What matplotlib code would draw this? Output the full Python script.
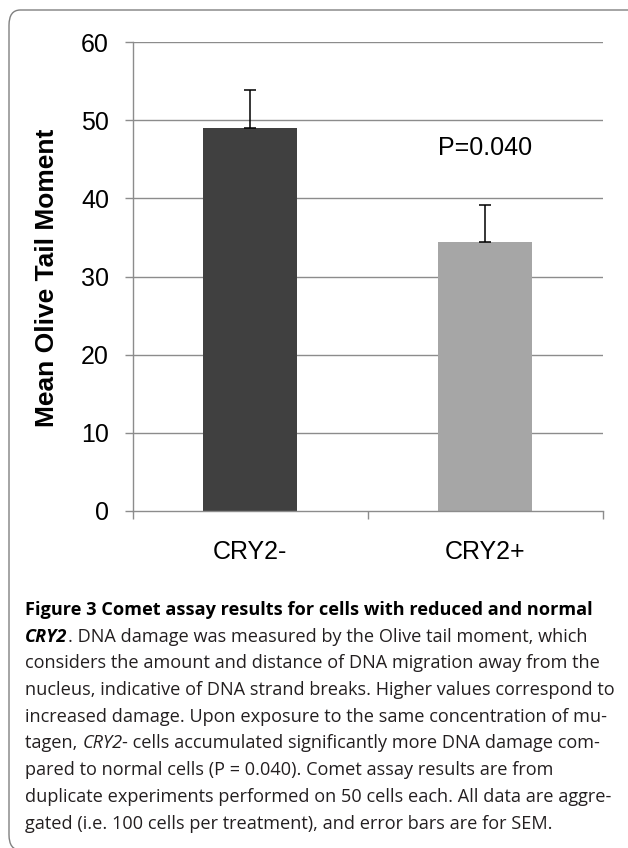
import matplotlib
matplotlib.use("Agg")
import matplotlib.pyplot as plt
from matplotlib.patches import FancyBboxPatch

# Data
groups = ["CRY2-", "CRY2+"]
means = [49.0, 34.4]
sems = [4.9, 4.8]
bar_colors = ["#404040", "#a6a6a6"]
yticks = [0, 10, 20, 30, 40, 50, 60]
p_label = "P=0.040"

# Caption: each line is a list of (text, style) segments
caption = [
    [("Figure 3 Comet assay results for cells with reduced and normal", "bold")],
    [("CRY2", "bolditalic"), (". DNA damage was measured by the Olive tail moment, which", "normal")],
    [("considers the amount and distance of DNA migration away from the", "normal")],
    [("nucleus, indicative of DNA strand breaks. Higher values correspond to", "normal")],
    [("increased damage. Upon exposure to the same concentration of mu-", "normal")],
    [("tagen, ", "normal"), ("CRY2", "italic"), ("- cells accumulated significantly more DNA damage com-", "normal")],
    [("pared to normal cells (P = 0.040). Comet assay results are from", "normal")],
    [("duplicate experiments performed on 50 cells each. All data are aggre-", "normal")],
    [("gated (i.e. 100 cells per treatment), and error bars are for SEM.", "normal")],
]

W, H = 628, 848
fig = plt.figure(figsize=(W / 100, H / 100), dpi=100)
plt.rcParams["font.family"] = ["Liberation Sans", "DejaVu Sans"]

# Outer rounded frame
frame = FancyBboxPatch((9 / W, -2 / H), 660 / W, (H - 10 + 2) / H,
                       boxstyle="round,pad=0,rounding_size=0.018",
                       transform=fig.transFigure, facecolor="none",
                       edgecolor="#808080", linewidth=1.0)
fig.patches.append(frame)

# Axes placed to match pixel layout
left, right, top, bottom = 133, 602.7, 42.3, 510.7
ax = fig.add_axes([left / W, 1 - bottom / H, (right - left) / W, (bottom - top) / H])

x = range(len(groups))
grid_col = "#8c8c8c"
for yv in yticks[1:]:
    ax.axhline(yv, color=grid_col, linewidth=1.0, zorder=0)

ax.bar(x, means, width=0.4, color=bar_colors, zorder=2)
ax.errorbar(x, means, yerr=[[0] * len(sems), sems], fmt="none",
            ecolor="black", elinewidth=1.1, capsize=4.4, capthick=1.1, zorder=3)

ax.set_xlim(-0.5, 1.5)
ax.set_ylim(0, 60)
ax.set_yticks(yticks)
ax.set_xticks(list(x))
ax.set_xticklabels(groups)
ax.set_xticks([-0.5, 0.5, 1.5], minor=True)

for s in ["top", "right"]:
    ax.spines[s].set_visible(False)
for s in ["left", "bottom"]:
    ax.spines[s].set_color(grid_col)
    ax.spines[s].set_linewidth(1.0)

ax.tick_params(axis="y", direction="out", length=5.8, width=1.0, color=grid_col,
               labelsize=18, pad=11.5)
ax.tick_params(axis="x", which="major", length=0, labelsize=18, pad=21)
ax.tick_params(axis="x", which="minor", direction="out", length=5.8, width=1.0,
               color=grid_col)

ax.text(1.0, 46.5, p_label, ha="center", va="center", fontsize=18)

fig.text(47 / W, 1 - 277.5 / H, "Mean Olive Tail Moment", rotation=90,
         ha="center", va="center", fontsize=19, fontweight="bold")

# Caption in a Myriad-like face
cap_font = ["Open Sans", "DejaVu Sans"]
styles = {
    "normal": dict(fontweight="normal", fontstyle="normal", color="#231f20"),
    "bold": dict(fontweight="bold", fontstyle="normal", color="#000000"),
    "italic": dict(fontweight="normal", fontstyle="italic", color="#231f20"),
    "bolditalic": dict(fontweight="bold", fontstyle="italic", color="#000000"),
}
fig.canvas.draw()
renderer = fig.canvas.get_renderer()
base0, step = 615, 26.7
for i, segs in enumerate(caption):
    xpix = 25.2
    ypix = base0 + i * step
    for txt, st in segs:
        t = fig.text(xpix / W, 1 - ypix / H, txt, ha="left", va="baseline",
                     fontsize=13.1, family=cap_font, **styles[st])
        xpix += t.get_window_extent(renderer).width

fig.savefig("out.png", dpi=100)
